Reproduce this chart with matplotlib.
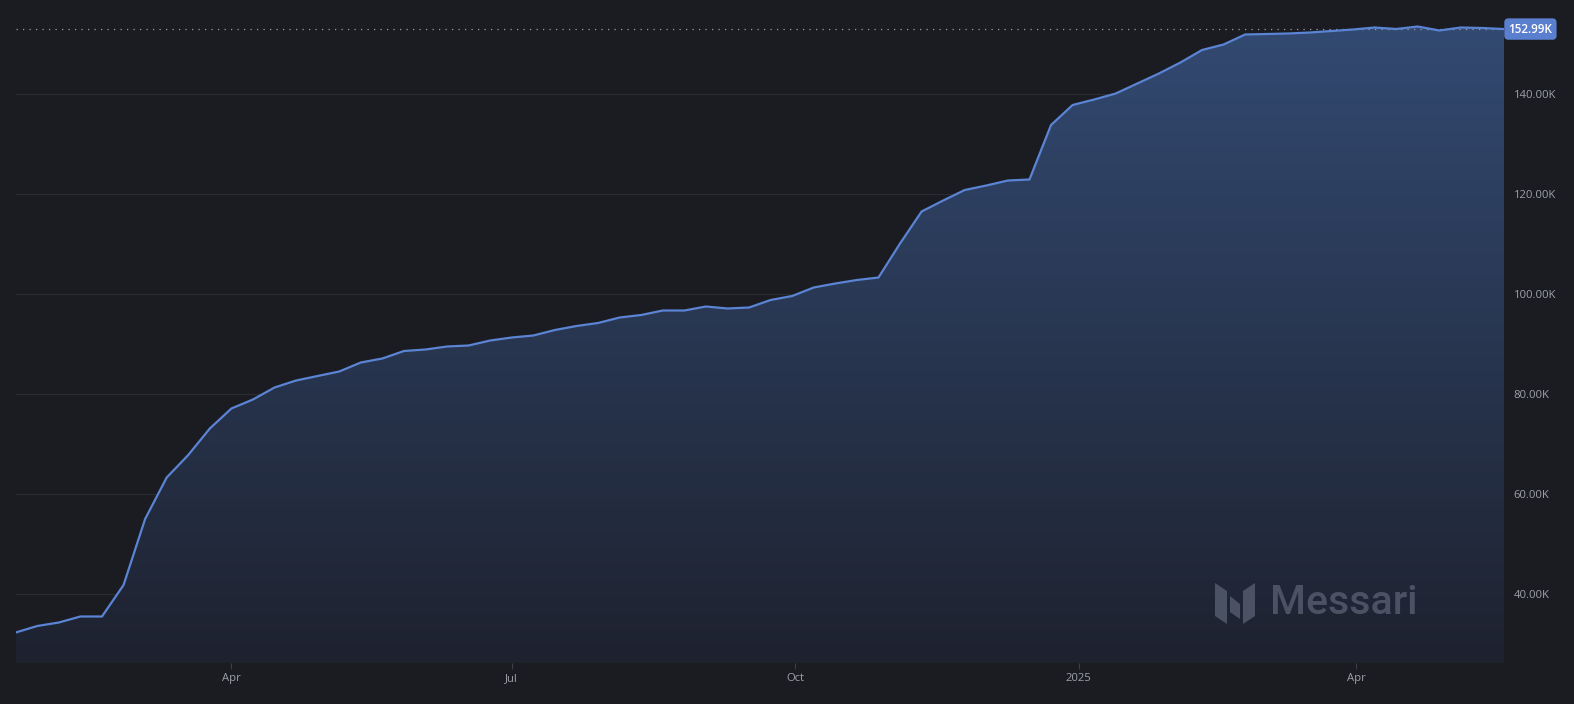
import matplotlib
matplotlib.use("Agg")
import matplotlib.pyplot as plt
import matplotlib.dates as mdates
from matplotlib.patches import Polygon
import numpy as np
import pandas as pd

# weekly values (thousands)
dates = pd.date_range("2024-01-22", periods=70, freq="7D")
values = [
    32.3, 33.6, 34.3, 35.5, 35.5, 41.8, 55.0, 63.3, 67.8, 73.1,
    77.1, 78.9, 81.3, 82.7, 83.6, 84.5, 86.3, 87.1, 88.6, 88.9,
    89.5, 89.7, 90.7, 91.3, 91.7, 92.8, 93.6, 94.2, 95.3, 95.8,
    96.7, 96.7, 97.5, 97.1, 97.3, 98.8, 99.6, 101.3, 102.1, 102.8,
    103.3, 110.1, 116.5, 118.7, 120.8, 121.7, 122.7, 122.9, 133.8, 137.8,
    138.9, 140.1, 142.1, 144.1, 146.3, 148.8, 149.9, 151.9, 152.0, 152.1,
    152.3, 152.6, 152.9, 153.3, 153.0, 153.5, 152.7, 153.3, 153.2, 152.99,
]
y_ticks = [40, 60, 80, 100, 120, 140]
x_ticks = ["2024-04-01", "2024-07-01", "2024-10-01", "2025-01-01", "2025-04-01"]
x_tick_labels = ["Apr", "Jul", "Oct", "2025", "Apr"]

BG = "#1a1c22"
LINE = "#5b84d4"
TXT = "#9ea1a8"

plt.rcParams["font.family"] = ["Open Sans", "DejaVu Sans"]

W, H = 1574, 704
fig = plt.figure(figsize=(W / 100, H / 100), dpi=100, facecolor=BG)
x0, x1, ytop, ybot = 15.7, 1504, 0, 663
ax = fig.add_axes([x0 / W, 1 - ybot / H, (x1 - x0) / W, (ybot - ytop) / H])
ax.set_facecolor(BG)

xn = mdates.date2num(dates)
ymin, ymax = 26.2, 158.8
ax.set_xlim(xn[0], xn[-1])
ax.set_ylim(ymin, ymax)

# gradient fill under the line
top_c = np.array([0x33, 0x4b, 0x74]) / 255
bot_c = np.array([0x1e, 0x22, 0x2f]) / 255
t = np.linspace(1, 0, 256)[:, None]
grad = (bot_c + (top_c - bot_c) * t)[:, None, :].repeat(2, axis=1)
img = ax.imshow(grad, extent=[xn[0], xn[-1], ymin, ymax], aspect="auto",
                origin="upper", zorder=1, interpolation="bilinear")
poly = Polygon(np.column_stack([np.r_[xn[0], xn, xn[-1]],
                                np.r_[ymin, values, ymin]]),
               closed=True, facecolor="none", edgecolor="none")
ax.add_patch(poly)
img.set_clip_path(poly)

ax.plot(xn, values, color=LINE, lw=1.6, zorder=3, solid_joinstyle="round")

# grid
for v in y_ticks:
    ax.axhline(v, color="#2b2d32", lw=0.8, zorder=0.5)
ax.axhline(values[-1], color="#9a9da3", lw=0.9, ls=(0, (1, 4.2)), zorder=2)

for s in ax.spines.values():
    s.set_visible(False)

ax.yaxis.tick_right()
ax.set_yticks(y_ticks)
ax.set_yticklabels([f"{v:.2f}K" for v in y_ticks])
ax.tick_params(axis="y", length=0, pad=7, labelsize=8.1, labelcolor=TXT)
ax.set_xticks(mdates.date2num(pd.to_datetime(x_ticks)))
ax.set_xticklabels(x_tick_labels)
ax.tick_params(axis="x", length=4, width=0.6, color="#44474e", pad=3,
               labelsize=8.1, labelcolor=TXT)

# last value tag
ax.text(1 + 4.5 / (x1 - x0), values[-1], f"{values[-1]:.2f}K",
        transform=ax.get_yaxis_transform(), ha="left", va="center",
        fontsize=8.4, color="white", fontweight="semibold", zorder=5,
        bbox=dict(boxstyle="round,pad=0.36,rounding_size=0.35",
                  fc="#5b7fcf", ec="none"), clip_on=False)

# watermark
wm = "#4b5263"
fig.text(1270 / W, 1 - 603 / H, "Messari", fontsize=29.5, color=wm,
         ha="left", va="center", fontweight="medium",
         family=["Roboto", "DejaVu Sans"])
shapes = [
    [(1215, 583), (1227, 591), (1227, 624), (1215, 616)],
    [(1230, 596), (1240, 604), (1240, 619), (1230, 612)],
    [(1243, 591), (1255, 583), (1255, 616), (1243, 624)],
]
for pts in shapes:
    fig.patches.append(Polygon([(px / W, 1 - py / H) for px, py in pts],
                               closed=True, transform=fig.transFigure,
                               fc=wm, ec="none"))

fig.savefig("out.png", dpi=100, facecolor=BG)
